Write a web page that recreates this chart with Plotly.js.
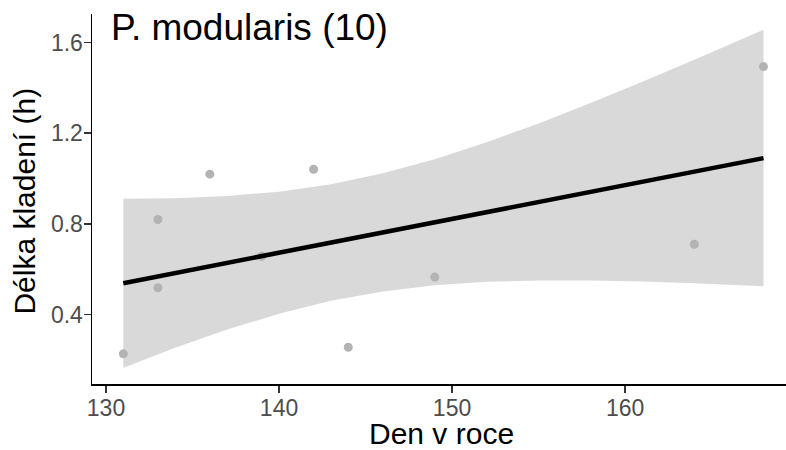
<!DOCTYPE html>
<html>
<head>
<meta charset="utf-8">
<script src="https://cdn.plot.ly/plotly-3.0.1.min.js"></script>
<style>
  html, body { margin: 0; padding: 0; background: #ffffff; }
</style>
</head>
<body>
<div id="myChart" style="width:786px;height:450px;"></div>
<script>
// body points (den v roce, delka kladeni)
var den = [131, 133, 133, 136, 139, 142, 144, 149, 164, 168];
var delka = [0.226, 0.819, 0.518, 1.019, 0.657, 1.041, 0.255, 0.565, 0.710, 1.494];

// fitted line, end points
var lineX = [131, 168];
var lineY = [0.538, 1.090];

// grey confidence band
var bandX = [131, 134, 137, 140, 143, 146, 149, 152, 155, 158, 161, 164, 168];
var bandLo = [0.165, 0.253, 0.333, 0.403, 0.460, 0.501, 0.529, 0.544, 0.550, 0.550, 0.545, 0.538, 0.524];
var bandHi = [0.911, 0.913, 0.923, 0.942, 0.975, 1.023, 1.085, 1.160, 1.243, 1.333, 1.427, 1.524, 1.657];

var xTicks = [130, 140, 150, 160];
var yTicks = [0.4, 0.8, 1.2, 1.6];

var fontFam = "Liberation Sans, Arial, sans-serif";

var lower = {
  x: bandX, y: bandLo,
  mode: "lines", line: { width: 0, color: "rgba(0,0,0,0)" },
  hoverinfo: "skip", showlegend: false
};
var upper = {
  x: bandX, y: bandHi,
  mode: "lines", line: { width: 0, color: "rgba(0,0,0,0)" },
  fill: "tonexty", fillcolor: "#d9d9d9",
  hoverinfo: "skip", showlegend: false
};
var pts = {
  x: den, y: delka,
  mode: "markers", type: "scatter",
  marker: { size: 9, color: "#b3b3b3" },
  showlegend: false
};
var fit = {
  x: lineX, y: lineY,
  mode: "lines", type: "scatter",
  line: { color: "#000000", width: 4.5 },
  showlegend: false
};

var axisBase = {
  showline: true, linecolor: "#000000", linewidth: 1.5,
  ticks: "outside", ticklen: 7, tickwidth: 1.5, tickcolor: "#333333",
  ticklabelstandoff: -4,
  tickfont: { family: fontFam, size: 23, color: "#4d4d4d" },
  showgrid: false, zeroline: false, mirror: false
};

// titles as annotations so they sit where the reference has them
var titleFont = { family: fontFam, size: 30, color: "#000000" };

var layout = {
  width: 786, height: 450,
  margin: { l: 92, r: 0, t: 14, b: 66 },
  paper_bgcolor: "#ffffff", plot_bgcolor: "#ffffff",
  font: { family: fontFam },
  xaxis: Object.assign({}, axisBase, {
    range: [129.19, 169.30],
    tickvals: xTicks
  }),
  yaxis: Object.assign({}, axisBase, {
    range: [0.093, 1.726],
    tickvals: yTicks,
    tickformat: ".1f"
  }),
  annotations: [
    {
      text: "P. modularis (10)",
      xref: "paper", yref: "paper",
      x: 0.025, y: 1.025, xanchor: "left", yanchor: "top",
      showarrow: false,
      font: { family: fontFam, size: 37, color: "#000000" }
    },
    {
      text: "Den v roce",
      xref: "paper", yref: "paper",
      x: 0.504, y: -0.182, xanchor: "center", yanchor: "bottom",
      showarrow: false, borderpad: 0,
      font: titleFont
    },
    {
      text: "Délka kladení (h)",
      xref: "paper", yref: "paper",
      x: -0.0965, y: 0.493, xanchor: "center", yanchor: "middle",
      textangle: -90,
      showarrow: false, borderpad: 0,
      font: titleFont
    }
  ]
};

Plotly.newPlot("myChart", [lower, upper, pts, fit], layout, { staticPlot: true });
</script>
</body>
</html>
